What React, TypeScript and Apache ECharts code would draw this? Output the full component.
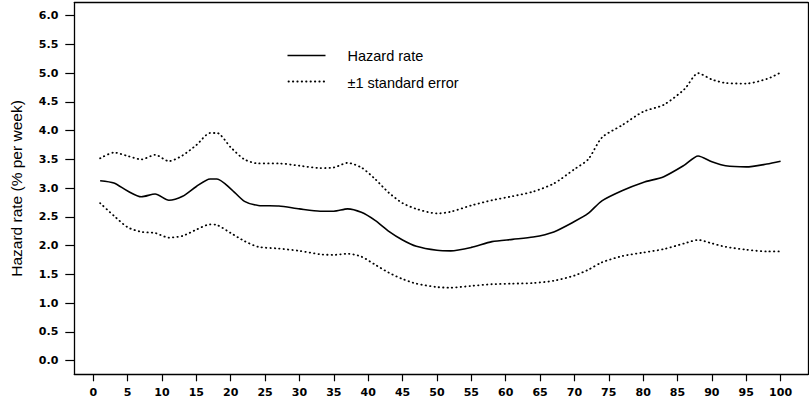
import { useEffect, useRef } from 'react';
import * as echarts from 'echarts';

// Weeks at which the smoothed hazard estimate is sampled
const weeks = [
  1, 3, 5, 7, 9, 11, 13, 15, 17, 18,
  20, 22, 24, 27, 30, 33, 35, 37, 39, 41,
  43, 45, 47, 50, 52, 55, 58, 61, 64, 67,
  70, 72, 74, 77, 80, 83, 86, 88, 90, 92,
  95, 98, 100,
];

// Hazard rate, % per week
const hazard = [
  3.13, 3.09, 2.95, 2.85, 2.9, 2.79, 2.86, 3.03, 3.16, 3.16,
  2.99, 2.77, 2.7, 2.69, 2.64, 2.6, 2.6, 2.64, 2.58, 2.44,
  2.25, 2.1, 1.99, 1.92, 1.91, 1.97, 2.07, 2.11, 2.15, 2.24,
  2.42, 2.56, 2.78, 2.96, 3.1, 3.2, 3.4, 3.56, 3.46, 3.39,
  3.37, 3.42, 3.47,
];

// Hazard rate + 1 standard error
const upperSE = [
  3.52, 3.62, 3.56, 3.5, 3.58, 3.47, 3.57, 3.75, 3.96, 3.96,
  3.71, 3.5, 3.43, 3.43, 3.39, 3.35, 3.36, 3.44, 3.36, 3.16,
  2.92, 2.74, 2.64, 2.56, 2.59, 2.7, 2.79, 2.86, 2.94, 3.08,
  3.33, 3.5, 3.88, 4.1, 4.33, 4.45, 4.72, 5.0, 4.89, 4.83,
  4.82, 4.9, 5.01,
];

// Hazard rate - 1 standard error
const lowerSE = [
  2.74, 2.52, 2.32, 2.24, 2.22, 2.14, 2.17, 2.28, 2.37, 2.36,
  2.22, 2.08, 1.98, 1.95, 1.91, 1.85, 1.84, 1.86, 1.81, 1.67,
  1.53, 1.42, 1.34, 1.28, 1.27, 1.3, 1.33, 1.34, 1.35, 1.39,
  1.48, 1.58, 1.71, 1.82, 1.88, 1.94, 2.04, 2.1, 2.04, 1.98,
  1.93, 1.9, 1.9,
];

const xTicks = [0, 5, 10, 15, 20, 25, 30, 35, 40, 45, 50, 55, 60, 65, 70, 75, 80, 85, 90, 95, 100];
const yTicks = [0, 0.5, 1, 1.5, 2, 2.5, 3, 3.5, 4, 4.5, 5, 5.5, 6];

const HAZARD_NAME = 'Hazard rate';
const SE_NAME = '\u00b11 standard error';

const X_MIN = -2.76;
const X_MAX = 104.0;
const Y_MIN = -0.237;
const Y_MAX = 6.226;

const tickFont = {
  fontFamily: 'DejaVu Sans',
  fontWeight: 'bold' as const,
  fontSize: 11,
  color: '#000',
};

const frameLine = { show: true, onZero: false, lineStyle: { color: '#000', width: 1.3 } };

const SOLID_WIDTH = 1.6;
const DOT_WIDTH = 1.8;
const DOT_DASH = [0.4, 4];

export default function App() {
  const ref = useRef<HTMLDivElement>(null);

  useEffect(() => {
    if (!ref.current) return;
    const chart = echarts.init(ref.current, undefined, { renderer: 'svg' });

    const pairs = (vals: number[]) => weeks.map((w, i) => [w, vals[i]]);
    const dotted = {
      color: '#000',
      width: DOT_WIDTH,
      type: DOT_DASH,
      cap: 'round' as const,
    };
    const legendFont = '14.5px "Liberation Sans", Arial, sans-serif';

    // Frame-only companion axes (top / right) close the plot box
    const frameAxis = {
      type: 'value' as const,
      axisLine: frameLine,
      axisTick: { show: false },
      axisLabel: { show: false },
      splitLine: { show: false },
    };

    chart.setOption({
      animation: false,
      backgroundColor: '#fff',
      grid: {
        left: 74.3,
        top: 2.7,
        right: 0.9,
        bottom: 31.7,
      },
      graphic: [
        {
          type: 'group',
          left: 285,
          top: 48,
          children: [
            {
              type: 'line',
              shape: { x1: 0, y1: 9, x2: 38, y2: 9 },
              style: { stroke: '#000', lineWidth: SOLID_WIDTH },
            },
            {
              type: 'text',
              x: 60,
              y: 9,
              style: {
                text: HAZARD_NAME,
                font: legendFont,
                fill: '#000',
                verticalAlign: 'middle',
              },
            },
            {
              type: 'line',
              shape: { x1: 1, y1: 35, x2: 37, y2: 35 },
              style: {
                stroke: '#000',
                lineWidth: DOT_WIDTH,
                lineDash: DOT_DASH,
                lineCap: 'round',
              },
            },
            {
              type: 'text',
              x: 60,
              y: 36,
              style: {
                text: SE_NAME,
                font: legendFont,
                fill: '#000',
                verticalAlign: 'middle',
              },
            },
          ],
        },
      ],
      xAxis: [
        {
          type: 'value',
          min: X_MIN,
          max: X_MAX,
          position: 'bottom',
          axisLine: frameLine,
          splitLine: { show: false },
          axisTick: {
            show: true,
            customValues: xTicks,
            length: 7,
            lineStyle: { color: '#000', width: 1.2 },
          },
          axisLabel: {
            customValues: xTicks,
            margin: 13,
            ...tickFont,
          },
        },
        { ...frameAxis, min: X_MIN, max: X_MAX, position: 'top' },
      ],
      yAxis: [
        {
          type: 'value',
          min: Y_MIN,
          max: Y_MAX,
          position: 'left',
          name: 'Hazard rate (% per week)',
          nameLocation: 'middle',
          nameGap: 50,
          nameTextStyle: {
            fontFamily: 'Liberation Sans',
            fontSize: 15.5,
            color: '#000',
          },
          axisLine: frameLine,
          splitLine: { show: false },
          axisTick: {
            show: true,
            customValues: yTicks,
            length: 9,
            lineStyle: { color: '#000', width: 1.2 },
          },
          axisLabel: {
            customValues: yTicks,
            margin: 16,
            formatter: (v: number) => v.toFixed(1),
            ...tickFont,
          },
        },
        { ...frameAxis, min: Y_MIN, max: Y_MAX, position: 'right' },
      ],
      series: [
        {
          name: HAZARD_NAME,
          type: 'line',
          data: pairs(hazard),
          smooth: 0.25,
          symbol: 'none',
          lineStyle: { color: '#000', width: SOLID_WIDTH },
          itemStyle: { color: '#000' },
        },
        {
          name: SE_NAME,
          type: 'line',
          data: pairs(upperSE),
          smooth: 0.25,
          symbol: 'none',
          lineStyle: dotted,
          itemStyle: { color: '#000' },
        },
        {
          name: SE_NAME,
          type: 'line',
          data: pairs(lowerSE),
          smooth: 0.25,
          symbol: 'none',
          lineStyle: dotted,
          itemStyle: { color: '#000' },
        },
      ],
    });

    return () => chart.dispose();
  }, []);

  return (
    <div
      ref={ref}
      style={{ position: 'absolute', left: 0, top: 0, width: 809, height: 406, background: '#fff' }}
    />
  );
}
